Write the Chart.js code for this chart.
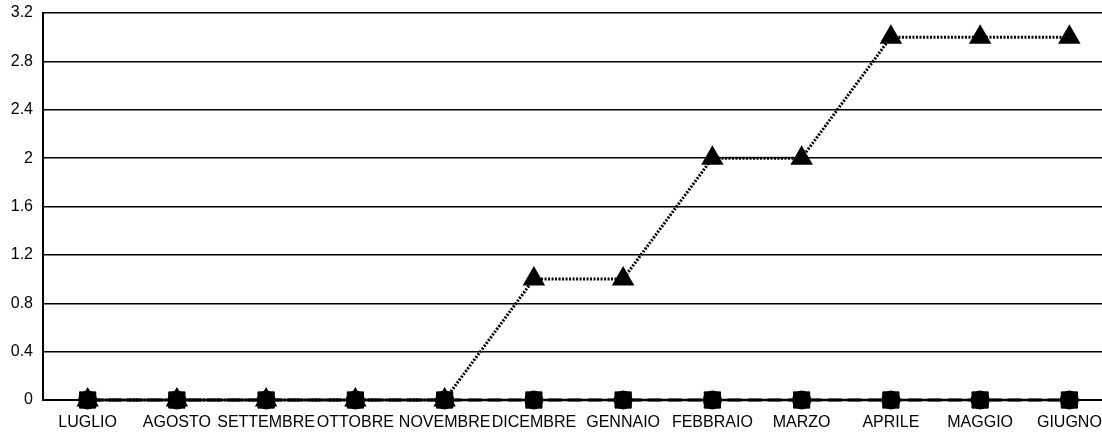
<!DOCTYPE html>
<html>
<head>
<meta charset="utf-8">
<script src="https://cdn.jsdelivr.net/npm/chart.js@4/dist/chart.umd.min.js"></script>
<style>
html,body{margin:0;padding:0;background:#fff;overflow:hidden;width:1102px;height:432px;}
#wrap{width:1102px;height:432px;overflow:hidden;position:relative;}
#c{position:absolute;left:0;top:0;}
</style>
</head>
<body>
<div id="wrap"><canvas id="c" width="1127" height="432" style="width:1127px;height:432px"></canvas></div>
<script>
const categories = ["LUGLIO","AGOSTO","SETTEMBRE","OTTOBRE","NOVEMBRE","DICEMBRE","GENNAIO","FEBBRAIO","MARZO","APRILE","MAGGIO","GIUGNO"];
const seriesTriangle = [0,0,0,0,0,1,1,2,2,3,3,3];
const seriesSquare = [0,0,0,0,0,0,0,0,0,0,0,0];
const seriesCircle = [0,0,0,0,0,0,0,0,0,0,0,0];
const yMin = 0, yMax = 3.2, yStep = 0.4;

const font = {family: "'Liberation Sans', Arial, sans-serif", size: 16};

new Chart(document.getElementById('c'), {
  type: 'line',
  data: {
    labels: categories,
    datasets: [
      {data: seriesCircle, borderColor:'#000', backgroundColor:'#000', borderWidth:2.5,
       pointStyle:'circle', pointRadius:9, pointBorderWidth:1, pointHoverRadius:9, clip:false, order:3},
      {data: seriesSquare, borderColor:'#000', backgroundColor:'#000', borderWidth:3,
       borderDash:[14,6], pointStyle:'rect', pointRadius:11.5, pointBorderWidth:1, pointHoverRadius:11.5, clip:false, order:2},
      {data: seriesTriangle, borderColor:'#000', backgroundColor:'#000', borderWidth:3,
       borderDash:[2,1.5], pointStyle:'triangle', pointRadius:10, pointHoverRadius:10, clip:false, order:1}
    ]
  },
  options: {
    responsive: false,
    devicePixelRatio: 1,
    animation: false,
    layout: {padding: {top: 13, right: 1.4, left: 0, bottom: 0}},
    plugins: {legend: {display: false}, tooltip: {enabled: false}},
    scales: {
      x: {
        offset: true,
        grid: {display: false, drawTicks: false},
        border: {display: true, color: '#000', width: 2},
        ticks: {color: '#000', font: font, padding: 13, maxRotation: 0, autoSkip: false},
        afterFit(s){ s.height = 32; s.paddingLeft = 0; s.paddingRight = 0; }
      },
      y: {
        min: yMin, max: yMax,
        grid: {color: '#000', lineWidth: 1.5, drawTicks: false},
        border: {display: true, color: '#000', width: 2},
        ticks: {stepSize: yStep, color: '#000', font: {family: font.family, size: 16}, padding: 10,
          callback: v => String(Number(v.toFixed(1)))},
        afterFit(s){ s.width = 43; s.paddingTop = 0; s.paddingBottom = 0; }
      }
    }
  }
});
</script>
</body>
</html>
